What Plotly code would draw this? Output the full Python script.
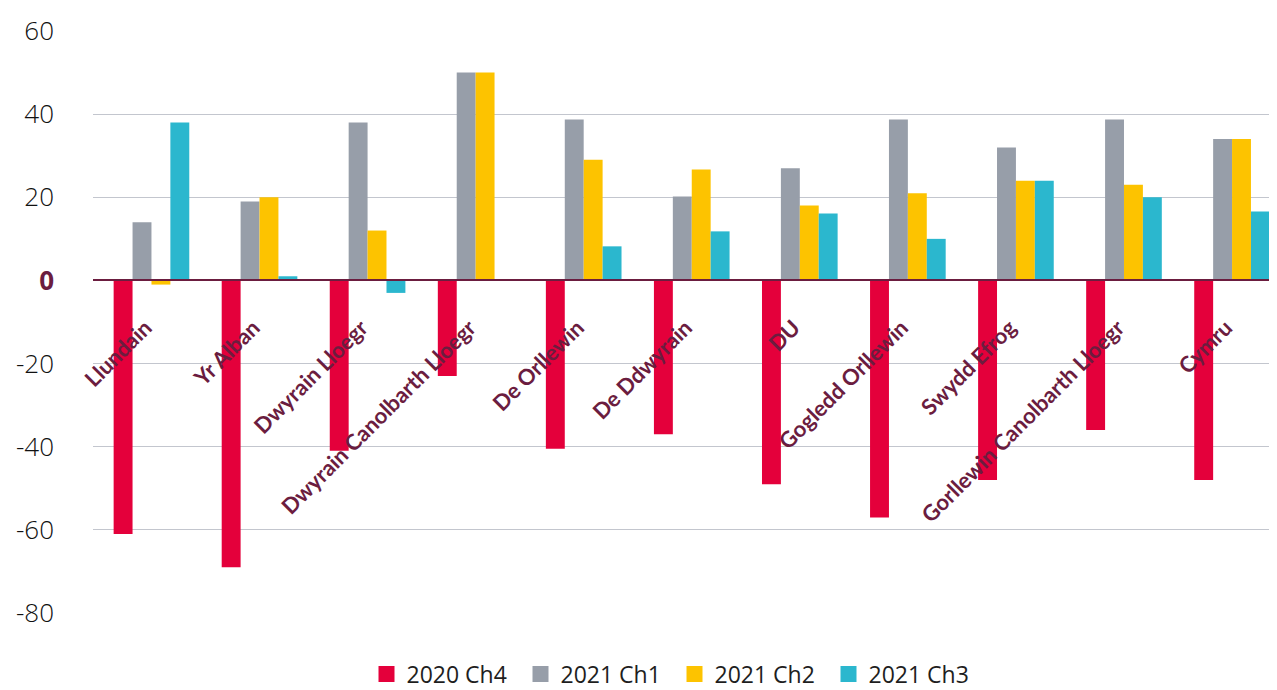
import plotly.graph_objects as go

regions = ["Llundain", "Yr Alban", "Dwyrain Lloegr", "Dwyrain Canolbarth Lloegr",
           "De Orllewin", "De Ddwyrain", "DU", "Gogledd Orllewin", "Swydd Efrog",
           "Gorllewin Canolbarth Lloegr", "Cymru"]

q4_2020 = [-61, -69, -41, -23, -40.5, -37, -49, -57, -48, -36, -48]
q1_2021 = [14, 19, 38, 50, 38.7, 20.2, 27, 38.7, 32, 38.7, 34]
q2_2021 = [-1, 20, 12, 50, 29, 26.7, 18, 21, 24, 23, 34]
q3_2021 = [38, 1, -3, 0, 8.2, 11.8, 16.1, 10, 24, 20, 16.6]

series_names = ["2020 Ch4", "2021 Ch1", "2021 Ch2", "2021 Ch3"]
series_vals = [q4_2020, q1_2021, q2_2021, q3_2021]
colors = ["#e4003b", "#979ea9", "#fdc300", "#2bb7ce"]

ytick_vals = [-80, -60, -40, -20, 0, 20, 40, 60]
ytick_text = ["-80", "-60", "-40", "-20",
              "<b><span style='color:#6b1d3f'>0</span></b>", "20", "40", "60"]

maroon = "#6b1d3f"

# page body has an 8px margin, so shift everything up/left by 8px
W, H = 1269, 690

fig = go.Figure()
for name, vals, col in zip(series_names, series_vals, colors):
    fig.add_bar(x=regions, y=vals, name=name, marker_color=col,
                marker_line_width=0, showlegend=False)
    # legend-only marker so the swatch is a bigger square
    fig.add_scatter(x=[None], y=[None], mode="markers", name=name,
                    marker=dict(symbol="square", size=20, color=col))

fig.update_layout(
    width=W, height=H,
    margin=dict(l=85, r=0, t=23, b=85),
    paper_bgcolor="white", plot_bgcolor="white",
    barmode="group", bargap=0.3, bargroupgap=0,
    font=dict(family="Open Sans", color="#1e1e1e"),
    legend=dict(orientation="h", x=0.231, xanchor="left",
                yref="container", y=24 / H, yanchor="middle",
                font=dict(size=23, color="#1e1e1e"), entrywidth=109,
                itemwidth=30, traceorder="normal"),
)

fig.update_xaxes(
    type="category", range=[-0.541, 10.416],
    anchor="free", position=80 / 140, automargin=False,
    showline=True, linecolor=maroon, linewidth=1.5,
    showgrid=False, ticks="", tickangle=-45,
    tickfont=dict(family="Lato", size=22, color=maroon, weight="bold"),
    ticklabelshift=-6, ticklabelstandoff=25,
)

fig.update_yaxes(
    range=[-80, 60], tickvals=ytick_vals, ticktext=ytick_text, automargin=False,
    showgrid=True, gridcolor="#c3c6ce", gridwidth=1,
    zeroline=False, showline=False, ticks="",
    tickfont=dict(family="Open Sans", size=26, color="#111111", weight=300),
    ticklabelstandoff=38,
)

fig.write_html("out.html")
